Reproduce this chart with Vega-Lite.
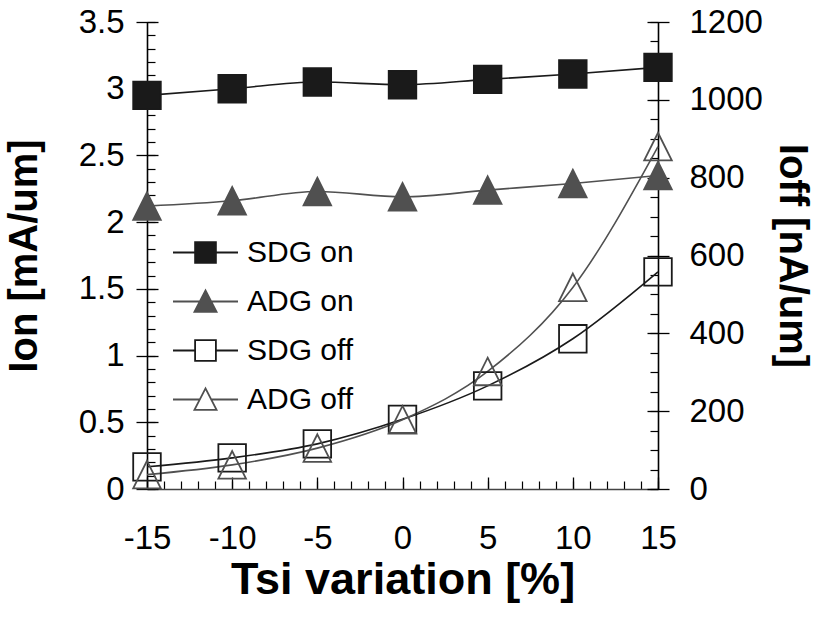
{
  "$schema": "https://vega.github.io/schema/vega-lite/v6.json",
  "width": 511,
  "height": 467,
  "autosize": "none",
  "padding": {"left": 147, "top": 22, "right": 160, "bottom": 135},
  "background": "white",
  "config": {
    "view": {"stroke": null},
    "axis": {"grid": false, "labelFont": "Liberation Sans", "titleFont": "Liberation Sans", "labelColor": "black", "titleColor": "black", "tickColor": "black", "domainColor": "black", "labelOverlap": false, "labelFlush": false, "labelExpr": "'' + datum.value"}
  },
  "data": {
    "values": [
      {"tsi": -15, "series": "SDG on", "value": 2.95},
      {"tsi": -10, "series": "SDG on", "value": 3.0},
      {"tsi": -5, "series": "SDG on", "value": 3.05},
      {"tsi": 0, "series": "SDG on", "value": 3.03},
      {"tsi": 5, "series": "SDG on", "value": 3.07},
      {"tsi": 10, "series": "SDG on", "value": 3.11},
      {"tsi": 15, "series": "SDG on", "value": 3.16},
      {"tsi": -15, "series": "ADG on", "value": 2.12},
      {"tsi": -10, "series": "ADG on", "value": 2.16},
      {"tsi": -5, "series": "ADG on", "value": 2.23},
      {"tsi": 0, "series": "ADG on", "value": 2.19},
      {"tsi": 5, "series": "ADG on", "value": 2.24},
      {"tsi": 10, "series": "ADG on", "value": 2.29},
      {"tsi": 15, "series": "ADG on", "value": 2.35},
      {"tsi": -15, "series": "SDG off", "value": 57},
      {"tsi": -10, "series": "SDG off", "value": 80},
      {"tsi": -5, "series": "SDG off", "value": 116},
      {"tsi": 0, "series": "SDG off", "value": 179},
      {"tsi": 5, "series": "SDG off", "value": 265},
      {"tsi": 10, "series": "SDG off", "value": 386},
      {"tsi": 15, "series": "SDG off", "value": 558},
      {"tsi": -15, "series": "ADG off", "value": 37},
      {"tsi": -10, "series": "ADG off", "value": 62},
      {"tsi": -5, "series": "ADG off", "value": 105},
      {"tsi": 0, "series": "ADG off", "value": 178},
      {"tsi": 5, "series": "ADG off", "value": 302},
      {"tsi": 10, "series": "ADG off", "value": 518},
      {"tsi": 15, "series": "ADG off", "value": 880}
    ]
  },
  "layer": [
    {
      "transform": [{"filter": {"field": "series", "oneOf": ["SDG on", "ADG on"]}}],
      "mark": {"type": "line", "interpolate": "monotone", "strokeWidth": 1.6},
      "encoding": {
        "x": {"field": "tsi", "type": "quantitative", "scale": {"domain": [-15, 15], "nice": false, "zero": false},
          "axis": {"orient": "bottom", "values": [-15, -10, -5, 0, 5, 10, 15], "tickSize": -12, "tickWidth": 1.3, "labelPadding": 45, "labelFontSize": 33, "domain": false, "title": "Tsi variation [%]", "titleFontSize": 45, "titleFontWeight": "bold", "titlePadding": 2}},
        "y": {"field": "value", "type": "quantitative", "scale": {"domain": [0, 3.5], "nice": false, "zero": false},
          "axis": {"orient": "left", "offset": -11, "tickSize": 22, "tickWidth": 1.3, "values": [0, 0.5, 1, 1.5, 2, 2.5, 3, 3.5], "domain": false, "labelPadding": 12, "labelFontSize": 33, "title": "Ion [mA/um]", "titleFontSize": 40, "titleFontWeight": "bold", "titlePadding": 34}},
        "color": {"field": "series", "type": "nominal", "scale": {"domain": ["SDG on", "ADG on", "SDG off", "ADG off"], "range": ["#1a1a1a", "#505050", "#1a1a1a", "#505050"]}, "legend": null}
      }
    },
    {
      "transform": [{"filter": {"field": "series", "oneOf": ["SDG on", "ADG on"]}}],
      "mark": {"type": "point", "size": 760, "strokeWidth": 1.8, "opacity": 1},
      "encoding": {
        "x": {"field": "tsi", "type": "quantitative", "scale": {"domain": [-15, 15], "nice": false, "zero": false},
          "axis": {"orient": "bottom", "values": [-15, -14, -13, -12, -11, -10, -9, -8, -7, -6, -5, -4, -3, -2, -1, 0, 1, 2, 3, 4, 5, 6, 7, 8, 9, 10, 11, 12, 13, 14, 15], "tickSize": -8, "tickWidth": 1.2, "labels": false, "title": null, "domain": true, "domainWidth": 1.6, "domainColor": "#444444"}},
        "y": {"field": "value", "type": "quantitative", "scale": {"domain": [0, 3.5], "nice": false, "zero": false},
          "axis": {"orient": "left", "values": [0, 0.1, 0.2, 0.3, 0.4, 0.5, 0.6, 0.7, 0.8, 0.9, 1, 1.1, 1.2, 1.3, 1.4, 1.5, 1.6, 1.7, 1.8, 1.9, 2, 2.1, 2.2, 2.3, 2.4, 2.5, 2.6, 2.7, 2.8, 2.9, 3, 3.1, 3.2, 3.3, 3.4, 3.5], "tickSize": -8, "tickWidth": 1.2, "labels": false, "title": null, "domain": true, "domainWidth": 1.6}},
        "stroke": {"field": "series", "type": "nominal", "scale": {"domain": ["SDG on", "ADG on", "SDG off", "ADG off"], "range": ["#1a1a1a", "#505050", "#1a1a1a", "#505050"]}, "legend": null},
        "fill": {"field": "series", "type": "nominal", "scale": {"domain": ["SDG on", "ADG on", "SDG off", "ADG off"], "range": ["#1a1a1a", "#505050", "transparent", "transparent"]}, "legend": null},
        "shape": {"field": "series", "type": "nominal", "scale": {"domain": ["SDG on", "ADG on", "SDG off", "ADG off"], "range": ["square", "M0,-1L1,1L-1,1Z", "square", "M0,-1L1,1L-1,1Z"]}, "legend": null}
      }
    },
    {
      "transform": [{"filter": {"field": "series", "oneOf": ["SDG off", "ADG off"]}}],
      "mark": {"type": "line", "interpolate": "monotone", "strokeWidth": 1.6},
      "encoding": {
        "x": {"field": "tsi", "type": "quantitative", "scale": {"domain": [-15, 15], "nice": false, "zero": false}, "axis": null},
        "y": {"field": "value", "type": "quantitative", "scale": {"domain": [0, 1200], "nice": false, "zero": false},
          "axis": {"orient": "right", "offset": -11, "tickSize": 22, "tickWidth": 1.3, "values": [0, 200, 400, 600, 800, 1000, 1200], "domain": false, "labelPadding": 20, "labelFontSize": 33, "title": "Ioff [nA/um]", "titleFontSize": 40, "titleFontWeight": "bold", "titlePadding": 9}},
        "color": {"field": "series", "type": "nominal", "scale": {"domain": ["SDG on", "ADG on", "SDG off", "ADG off"], "range": ["#1a1a1a", "#505050", "#1a1a1a", "#505050"]}, "legend": null}
      }
    },
    {
      "transform": [{"filter": {"field": "series", "oneOf": ["SDG off", "ADG off"]}}],
      "mark": {"type": "point", "size": 760, "strokeWidth": 1.8, "opacity": 1},
      "encoding": {
        "x": {"field": "tsi", "type": "quantitative", "scale": {"domain": [-15, 15], "nice": false, "zero": false}, "axis": null},
        "y": {"field": "value", "type": "quantitative", "scale": {"domain": [0, 1200], "nice": false, "zero": false},
          "axis": {"orient": "right", "values": [0, 50, 100, 150, 200, 250, 300, 350, 400, 450, 500, 550, 600, 650, 700, 750, 800, 850, 900, 950, 1000, 1050, 1100, 1150, 1200], "tickSize": -8, "tickWidth": 1.2, "labels": false, "title": null, "domain": true, "domainWidth": 1.6}},
        "stroke": {"field": "series", "type": "nominal", "scale": {"domain": ["SDG on", "ADG on", "SDG off", "ADG off"], "range": ["#1a1a1a", "#505050", "#1a1a1a", "#505050"]}, "legend": null},
        "fill": {"field": "series", "type": "nominal", "scale": {"domain": ["SDG on", "ADG on", "SDG off", "ADG off"], "range": ["#1a1a1a", "#505050", "transparent", "transparent"]}, "legend": null},
        "shape": {"field": "series", "type": "nominal", "scale": {"domain": ["SDG on", "ADG on", "SDG off", "ADG off"], "range": ["square", "M0,-1L1,1L-1,1Z", "square", "M0,-1L1,1L-1,1Z"]}, "legend": null}
      }
    },
    {
      "mark": {"type": "point", "size": 4225, "strokeWidth": 1.8, "opacity": 0},
      "encoding": {
        "x": {"field": "tsi", "type": "quantitative", "scale": {"domain": [-15, 15], "nice": false, "zero": false}, "axis": null},
        "y": {"field": "value", "type": "quantitative", "scale": {"domain": [0, 1200], "nice": false, "zero": false}, "axis": null},
        "stroke": {"field": "series", "type": "nominal", "scale": {"domain": ["SDG on", "ADG on", "SDG off", "ADG off"], "range": ["#1a1a1a", "#505050", "#1a1a1a", "#505050"]},
          "legend": {"orient": "none", "legendX": 25, "legendY": 197, "title": null, "symbolSize": 4225, "symbolStrokeWidth": 1.8, "symbolOpacity": 1, "labelFont": "Liberation Sans", "labelFontSize": 30, "labelColor": "black", "labelOffset": 8, "rowPadding": 0, "padding": 0}},
        "fill": {"field": "series", "type": "nominal", "scale": {"domain": ["SDG on", "ADG on", "SDG off", "ADG off"], "range": ["#1a1a1a", "#505050", "transparent", "transparent"]},
          "legend": {"orient": "none", "legendX": 25, "legendY": 197, "title": null, "symbolSize": 4225, "symbolStrokeWidth": 1.8, "symbolOpacity": 1, "labelFont": "Liberation Sans", "labelFontSize": 30, "labelColor": "black", "labelOffset": 8, "rowPadding": 0, "padding": 0}},
        "shape": {"field": "series", "type": "nominal", "scale": {"domain": ["SDG on", "ADG on", "SDG off", "ADG off"], "range": ["M-1,0H-0.32M0.32,0H1M-0.32,-0.32H0.32V0.32H-0.32Z", "M-1,0H-0.175M0.175,0H1M0,-0.34L0.34,0.32L-0.34,0.32Z", "M-1,0H-0.32M0.32,0H1M-0.32,-0.32H0.32V0.32H-0.32Z", "M-1,0H-0.175M0.175,0H1M0,-0.34L0.34,0.32L-0.34,0.32Z"]},
          "legend": {"orient": "none", "legendX": 25, "legendY": 197, "title": null, "symbolSize": 4225, "symbolStrokeWidth": 1.8, "symbolOpacity": 1, "labelFont": "Liberation Sans", "labelFontSize": 30, "labelColor": "black", "labelOffset": 8, "rowPadding": 0, "padding": 0}}
      }
    }
  ],
  "resolve": {"scale": {"y": "independent", "shape": "independent", "fill": "independent", "stroke": "independent"}, "axis": {"x": "independent", "y": "independent"}}
}
